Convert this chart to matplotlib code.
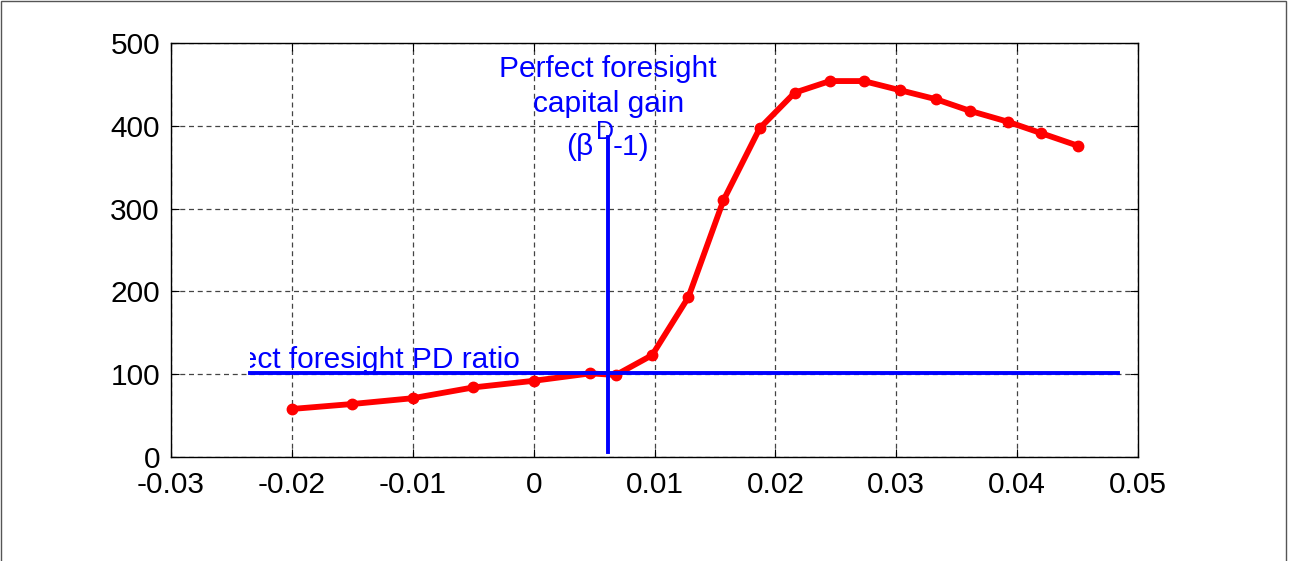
import matplotlib
matplotlib.use("Agg")
import matplotlib.pyplot as plt
from matplotlib.patches import Rectangle

plt.rcParams['font.family'] = ['Liberation Sans', 'DejaVu Sans']

# growth rate vs price-dividend ratio
g = [-0.020, -0.015, -0.010, -0.005, 0.000, 0.0047, 0.0068, 0.0098, 0.0128, 0.0157,
     0.0187, 0.0216, 0.0245, 0.0273, 0.0303, 0.0333, 0.0361, 0.0392, 0.0420, 0.0450]
pd_ratio = [58, 64, 71, 84, 92, 101, 99, 123, 193, 310,
            397, 440, 454, 454, 443, 432, 418, 405, 391, 376]

pf_pd = 102          # perfect foresight PD ratio
pf_gain = 0.00616    # perfect foresight capital gain
hline_x = [-0.0235, 0.0483]
vline_y = [6, 387]

fig = plt.figure(figsize=(12.89, 5.61), dpi=100)
fig.patches.append(Rectangle((0.0008, -0.1), 0.997, 1.098, transform=fig.transFigure,
                             fill=False, edgecolor='#555555', linewidth=1))
ax = fig.add_axes([0.1327, 0.1854, 0.7502, 0.738])

ax.plot(g, pd_ratio, '-o', color='red', linewidth=4.2, markersize=7.5, zorder=3)
ax.plot(hline_x, [pf_pd, pf_pd], color='blue', linewidth=2.8, zorder=4)
ax.plot([pf_gain, pf_gain], vline_y, color='blue', linewidth=2.8, zorder=4)

fs = 21.5
t = ax.text(-0.00113, 108, 'Perfect foresight PD ratio', color='blue',
            fontsize=fs, ha='right', va='baseline', clip_on=True)
t.set_clip_path(Rectangle((hline_x[0], 0), 0.1, 500, transform=ax.transData))

ax.text(pf_gain, 459, 'Perfect foresight', color='blue', fontsize=fs, ha='center', va='baseline')
ax.text(pf_gain, 417, 'capital gain', color='blue', fontsize=fs, ha='center', va='baseline')
ax.text(0.00491, 365, '(\u03b2', color='blue', fontsize=fs, ha='right', va='baseline')
ax.text(0.00518, 384, 'D', color='blue', fontsize=18, ha='left', va='baseline')
ax.text(0.00655, 365, '-1)', color='blue', fontsize=fs, ha='left', va='baseline')

ax.set_xlim(-0.03, 0.05)
ax.set_ylim(0, 500)
ax.set_xticks([-0.03, -0.02, -0.01, 0, 0.01, 0.02, 0.03, 0.04, 0.05])
ax.set_xticklabels(['-0.03', '-0.02', '-0.01', '0', '0.01', '0.02', '0.03', '0.04', '0.05'])
ax.set_yticks([0, 100, 200, 300, 400, 500])
ax.tick_params(direction='in', length=6, labelsize=21.5, top=True, right=True)
ax.tick_params(axis='x', pad=10)
ax.tick_params(axis='y', pad=8)
ax.grid(True, linestyle=(0, (4, 3)), color='#444444', linewidth=0.9)
for s in ax.spines.values():
    s.set_linewidth(1)

fig.savefig('out.png', dpi=100)
